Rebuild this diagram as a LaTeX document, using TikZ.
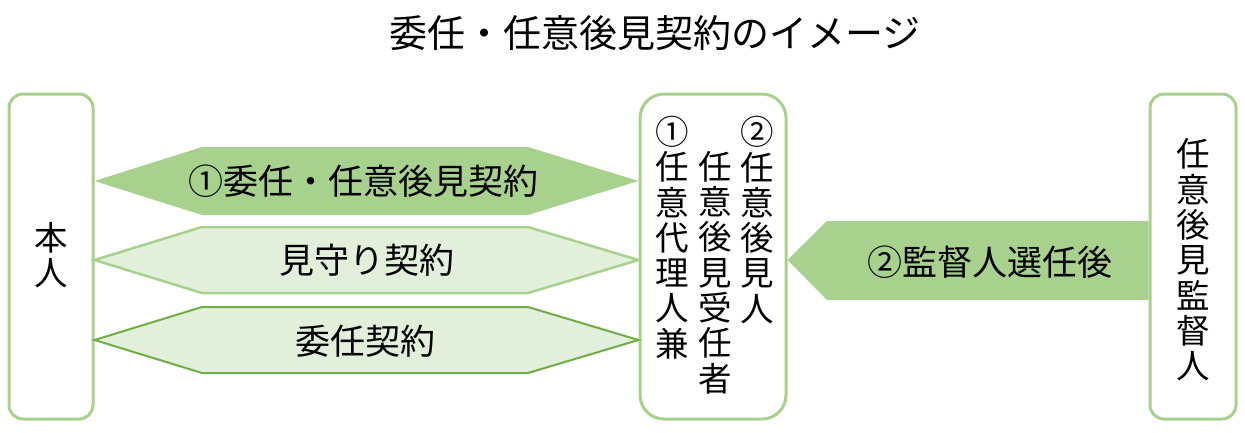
\documentclass[tikz,border=0pt]{standalone}
\usepackage{fontspec}
\setmainfont{Noto Sans CJK JP}
\usetikzlibrary{positioning,calc}
\definecolor{leafgreen}{HTML}{A9D18E}
\definecolor{palegreen}{HTML}{E2EFDA}
\definecolor{deepgreen}{HTML}{70AD47}

\begin{document}
\begin{tikzpicture}[x=1pt,y=-1pt,
	box/.style={draw=leafgreen, line width=3pt, rounded corners=14pt},
	vtext/.style={align=center, inner sep=0pt, font=\fontsize{33.5}{35.3}\selectfont},
	lbl/.style={inner sep=0pt, font=\fontsize{35}{38}\selectfont}]
	            \useasboundingbox (0,0) rectangle (1245,432);
	            \node [lbl, font=\fontsize{38}{40}\selectfont] (title) at (655,33) {委任・任意後見契約のイメージ};
	            % boxes
	            \node [box, minimum width=84pt, minimum height=325pt] (honnin) at (51,256.5) {};
	            \node [vtext] at (51,255) {本\\人};
	            \node [box, rounded corners=24pt, minimum width=146pt, minimum height=325pt] (jutaku) at (713,256.5) {};
	            \node [vtext] (col1) at (672,237.5) {①\\任\\意\\代\\理\\人\\兼};
	            \node [vtext] (col2) at (715,272.5) {任\\意\\後\\見\\受\\任\\者};
	            \node [vtext] (col3) at (757,220) {②\\任\\意\\後\\見\\人};
	            \node [box, minimum width=86pt, minimum height=325pt] (kantoku) at (1193,256.5) {};
	            \node [vtext] at (1193,260) {任\\意\\後\\見\\監\\督\\人};
	            % contracts
	            \fill [leafgreen] (honnin.east |- 0,181) -- (202,147) -- (528,147) -- (jutaku.west |- 0,181) -- (528,215) -- (202,215) -- cycle;
	            \node [lbl] (ninni) at (363,181) {①委任・任意後見契約};
	            \draw [leafgreen, line width=2.5pt, fill=palegreen] (honnin.east |- 0,260) -- (202,227) -- (528,227) -- (jutaku.west |- 0,260) -- (528,293) -- (202,293) -- cycle;
	            \node [lbl] (mimamori) at (367,260) {見守り契約};
	            \draw [deepgreen, line width=2pt, fill=palegreen] (honnin.east |- 0,340) -- (202,307) -- (528,307) -- (jutaku.west |- 0,340) -- (528,373) -- (202,373) -- cycle;
	            \node [lbl] (inin) at (365,341) {委任契約};
	            \fill [leafgreen] (jutaku.east |- 0,260) -- (827,221) -- (kantoku.west |- 0,221) -- (kantoku.west |- 0,300) -- (827,300) -- cycle;
	            \node [lbl] (senin) at (990,262) {②監督人選任後};
\end{tikzpicture}
\end{document}
